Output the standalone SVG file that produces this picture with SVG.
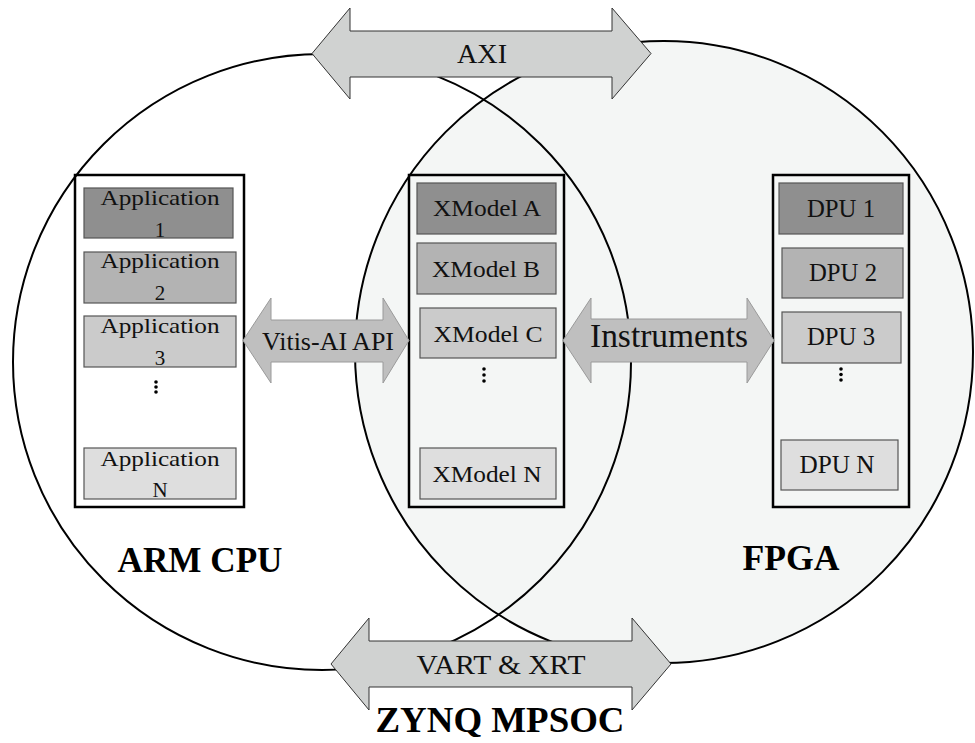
<svg xmlns="http://www.w3.org/2000/svg" width="975" height="743" viewBox="0 0 975 743">
<style>
.circ{stroke:#000;stroke-width:2}
.cont{fill:none;stroke:#000;stroke-width:2.5}
.box{stroke:#555;stroke-width:1.2}
.c1{fill:#8f8f8f}.c2{fill:#b3b3b3}.c3{fill:#cbcbcb}.c4{fill:#dedede}
.t{font-family:"Liberation Serif","Times New Roman",serif;fill:#111;text-anchor:middle}
.b{font-family:"Liberation Serif","Times New Roman",serif;font-weight:bold;fill:#000;text-anchor:middle;font-size:35px}
.arrA{fill:#d0d2d1;stroke:#333;stroke-width:1}
.arrB{fill:#bfbfbf;stroke:#9a9a9a;stroke-width:1}
.dot{fill:#000}
</style>
<rect width="975" height="743" fill="#fff"/>
<g id="fpga-region">
<ellipse class="circ" cx="664" cy="352" rx="309" ry="311" fill="#f4f6f5"/>
</g>
<g id="arm-region">
<ellipse class="circ" cx="322" cy="362" rx="309" ry="308" fill="none"/>
</g>
<g id="arm-stack">
<rect class="cont" x="75" y="175" width="169" height="332"/>
<rect class="box c1" x="84" y="188" width="149" height="50"/>
<text class="t" x="160" y="205" font-size="21" textLength="119" lengthAdjust="spacingAndGlyphs">Application</text>
<text class="t" x="160" y="237" font-size="21">1</text>
<rect class="box c2" x="84" y="252" width="152" height="51"/>
<text class="t" x="160" y="268" font-size="21" textLength="119" lengthAdjust="spacingAndGlyphs">Application</text>
<text class="t" x="160" y="300" font-size="21">2</text>
<rect class="box c3" x="84" y="316" width="152" height="51"/>
<text class="t" x="160" y="333" font-size="21" textLength="119" lengthAdjust="spacingAndGlyphs">Application</text>
<text class="t" x="160" y="365" font-size="21">3</text>
<circle class="dot" cx="156" cy="382" r="1.8"/>
<circle class="dot" cx="156" cy="387" r="1.8"/>
<circle class="dot" cx="156" cy="392" r="1.8"/>
<rect class="box c4" x="84" y="448" width="152" height="51"/>
<text class="t" x="160" y="466" font-size="21" textLength="119" lengthAdjust="spacingAndGlyphs">Application</text>
<text class="t" x="160" y="497" font-size="21">N</text>
</g>
<g id="xmodel-stack">
<rect class="cont" x="409" y="175" width="155" height="332"/>
<rect class="box c1" x="417" y="183" width="139" height="51"/>
<text class="t" x="487" y="216" font-size="23" textLength="108" lengthAdjust="spacingAndGlyphs">XModel A</text>
<rect class="box c2" x="417" y="243" width="139" height="51"/>
<text class="t" x="486" y="277" font-size="23" textLength="108" lengthAdjust="spacingAndGlyphs">XModel B</text>
<rect class="box c3" x="420" y="308" width="136" height="50"/>
<text class="t" x="488" y="342" font-size="23" textLength="109" lengthAdjust="spacingAndGlyphs">XModel C</text>
<circle class="dot" cx="484" cy="369" r="1.8"/>
<circle class="dot" cx="484" cy="375" r="1.8"/>
<circle class="dot" cx="484" cy="381" r="1.8"/>
<rect class="box c4" x="420" y="448" width="136" height="51"/>
<text class="t" x="487" y="482" font-size="23" textLength="109" lengthAdjust="spacingAndGlyphs">XModel N</text>
</g>
<g id="dpu-stack">
<rect class="cont" x="773" y="175" width="136" height="332"/>
<rect class="box c1" x="779" y="183" width="124" height="51"/>
<text class="t" x="841" y="217" font-size="26" textLength="68" lengthAdjust="spacingAndGlyphs">DPU 1</text>
<rect class="box c2" x="782" y="248" width="121" height="50"/>
<text class="t" x="843" y="281" font-size="26" textLength="68" lengthAdjust="spacingAndGlyphs">DPU 2</text>
<rect class="box c3" x="782" y="312" width="119" height="51"/>
<text class="t" x="841" y="345" font-size="26" textLength="68" lengthAdjust="spacingAndGlyphs">DPU 3</text>
<circle class="dot" cx="841" cy="369" r="1.8"/>
<circle class="dot" cx="841" cy="374.5" r="1.8"/>
<circle class="dot" cx="841" cy="380" r="1.8"/>
<rect class="box c4" x="781" y="440" width="117" height="50"/>
<text class="t" x="837" y="473" font-size="26" textLength="75" lengthAdjust="spacingAndGlyphs">DPU N</text>
</g>
<g id="connectors">
<g id="axi">
<polygon class="arrA" points="312,53.5 350,8 350,31 612,31 612,8 651,53.5 612,99 612,77 350,77 350,99"/>
<text class="t" x="482" y="63" font-size="28" textLength="50" lengthAdjust="spacingAndGlyphs">AXI</text>
</g>
<g id="vart-xrt">
<polygon class="arrA" points="331,664 369,618 369,641 632,641 632,618 671,664 632,710 632,687 369,687 369,710"/>
<text class="t" x="501" y="674" font-size="28" textLength="169" lengthAdjust="spacingAndGlyphs">VART &amp; XRT</text>
</g>
<g id="vitis-api">
<polygon class="arrB" points="243,340.5 271,298 271,320 383,320 383,298 409,340.5 383,383 383,362 271,362 271,383"/>
<text class="t" x="328" y="350" font-size="26" textLength="132" lengthAdjust="spacingAndGlyphs">Vitis-AI API</text>
</g>
<g id="instruments">
<polygon class="arrB" points="563,340.5 591,298 591,319 747,319 747,298 774,340.5 747,383 747,362 591,362 591,383"/>
<text class="t" x="669" y="347" font-size="33" textLength="158" lengthAdjust="spacingAndGlyphs">Instruments</text>
</g>
</g>
<g id="labels">
<text class="b" x="200" y="572" textLength="165" lengthAdjust="spacingAndGlyphs">ARM CPU</text>
<text class="b" x="791" y="570" textLength="97" lengthAdjust="spacingAndGlyphs">FPGA</text>
<text class="b" x="500" y="732" textLength="249" lengthAdjust="spacingAndGlyphs">ZYNQ MPSOC</text>
</g>
</svg>
